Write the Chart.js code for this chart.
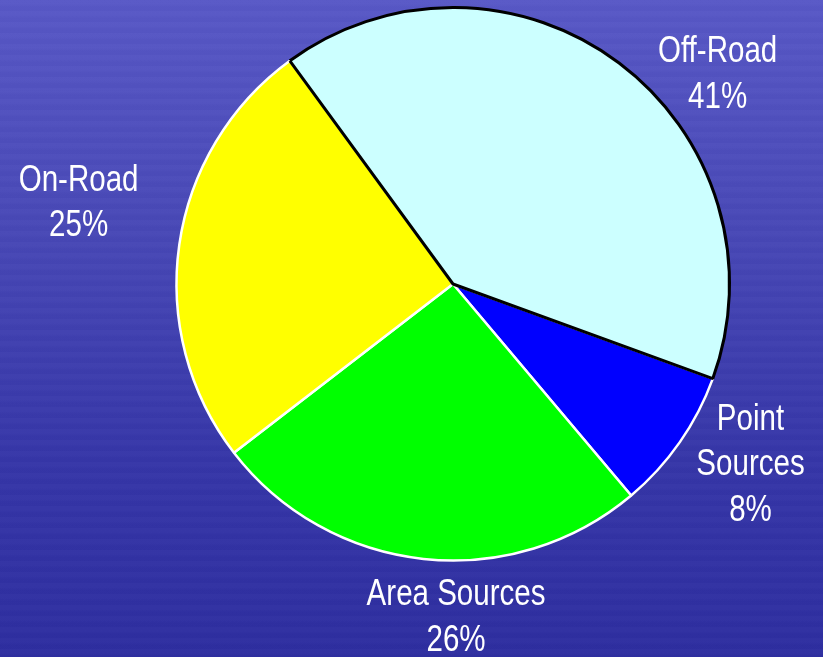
<!DOCTYPE html>
<html>
<head>
<meta charset="utf-8">
<script src="https://cdn.jsdelivr.net/npm/chart.js@4"></script>
<style>
  html, body { margin: 0; padding: 0; }
  body {
    width: 823px; height: 657px; overflow: hidden;
    background:
      repeating-linear-gradient(180deg, rgba(255,255,255,0.015) 0px, rgba(255,255,255,0.015) 4px, rgba(0,0,0,0.012) 7px, rgba(0,0,0,0.012) 11px),
      linear-gradient(180deg, #5858c6 0%, #4848b6 35%, #3636a8 70%, #2e2ea0 100%);
  }
  #wrap { width: 823px; height: 657px; }
</style>
</head>
<body>
<div id="wrap"><canvas id="myChart"></canvas></div>
<script>
// drawn clockwise starting at Point Sources, so Off-Road (black edge) is painted last
const categories = ['Point Sources', 'Area Sources', 'On-Road', 'Off-Road'];
const labelLines = [['Point', 'Sources'], ['Area Sources'], ['On-Road'], ['Off-Road']];
const shares = [8.3, 25.7, 25.4, 40.6];

const sliceColors = ['#0000ff', '#00ff00', '#ffff00', '#ccffff'];
const edgeColors = ['#ffffff', '#ffffff', '#ffffff', '#000000'];
const edgeWidths = [2.5, 2.5, 2.5, 3];

// label block centre, as fraction of the pie radius from its centre
const labelSpots = [
    [1.076, 0.655],
    [0.011, 1.209],
    [-1.354, -0.291],
    [0.957, -0.756],
];

const outsideLabels = {
    id: 'outsideLabels',
    afterDatasetsDraw(chart) {
        const ctx = chart.ctx;
        const meta = chart.getDatasetMeta(0);
        const total = shares.reduce((a, b) => a + b, 0);
        const lineH = 45.5;
        ctx.save();
        ctx.fillStyle = '#ffffff';
        ctx.font = '36px "Liberation Sans", Arial, sans-serif';
        ctx.textAlign = 'center';
        ctx.textBaseline = 'middle';
        meta.data.forEach((arc, i) => {
            const r = arc.outerRadius;
            const cx = arc.x + labelSpots[i][0] * r;
            const cy = arc.y + labelSpots[i][1] * r;
            const lines = labelLines[i].concat([Math.round(shares[i] / total * 100) + '%']);
            const top = cy - (lines.length - 1) * lineH / 2;
            lines.forEach((t, j) => {
                ctx.save();
                ctx.translate(cx, top + j * lineH);
                ctx.scale(0.82, 1);
                ctx.fillText(t, 0, 0);
                ctx.restore();
            });
        });
        ctx.restore();
    }
};

const config = {
    type: 'pie',
    data: {
        labels: categories,
        datasets: [{
            data: shares,
            backgroundColor: sliceColors,
            borderColor: edgeColors,
            borderWidth: edgeWidths,
            hoverOffset: 0,
            offset: 0,
        }]
    },
    options: {
        responsive: true,
        maintainAspectRatio: false,
        animation: false,
        rotation: 110,
        layout: {
            padding: { left: 175, right: 92, top: 6, bottom: 95 }
        },
        plugins: {
            legend: { display: false },
            tooltip: { enabled: false }
        }
    },
    plugins: [outsideLabels]
};

const myChart = new Chart(
    document.getElementById('myChart'),
    config
);
</script>
</body>
</html>
